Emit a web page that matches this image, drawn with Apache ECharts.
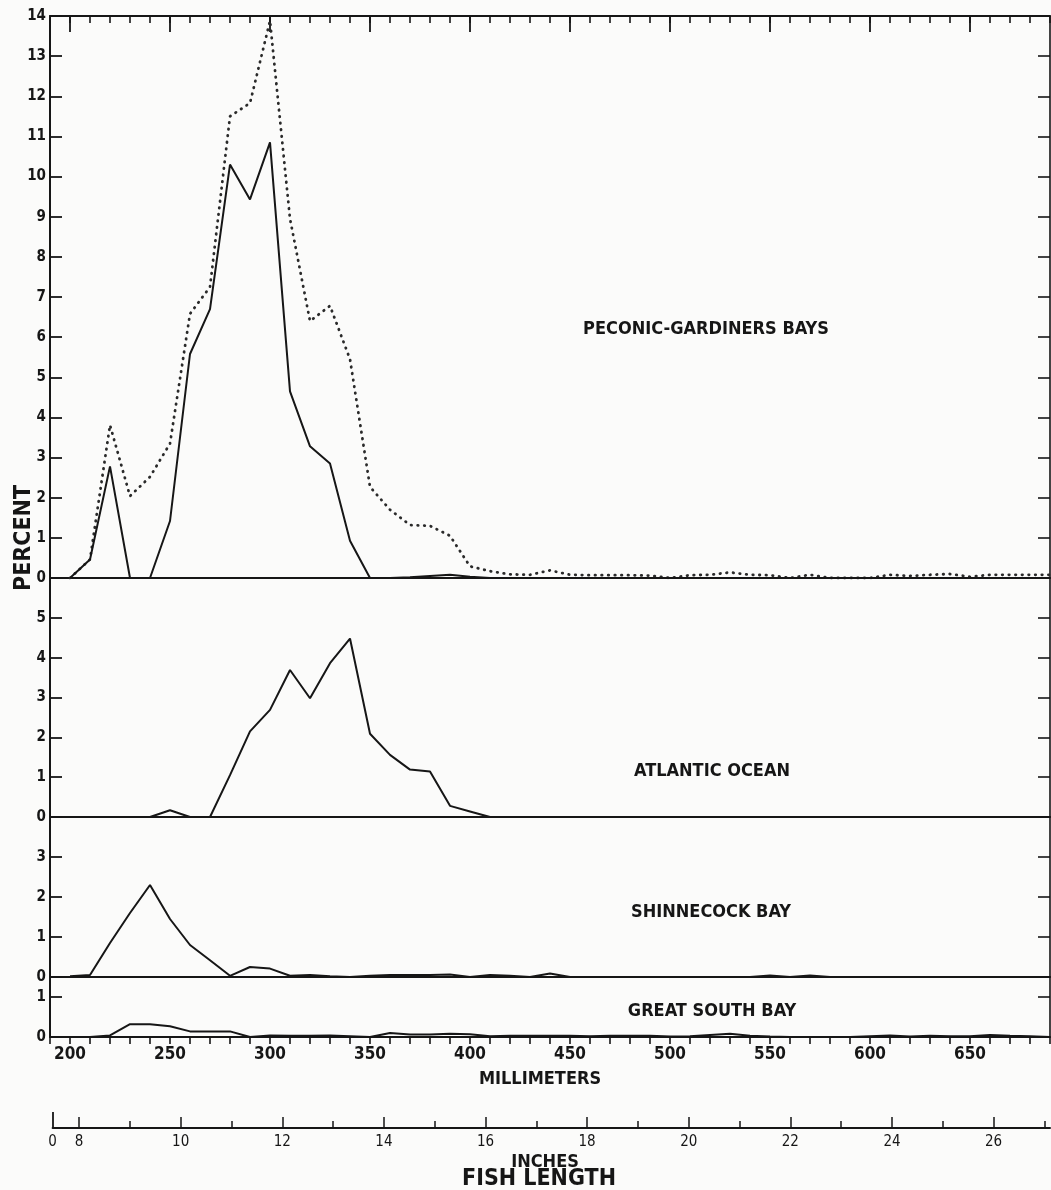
<!DOCTYPE html>
<html>
<head>
<meta charset="utf-8">
<script src="https://cdn.jsdelivr.net/npm/echarts@6/dist/echarts.min.js"></script>
<style>
html,body{margin:0;padding:0;background:#fbfbfa;}
#chart{width:1051px;height:1190px;}
</style>
</head>
<body>
<div id="chart"></div>
<script>
// ---------------- data (fish length in mm, percent) ----------------
const lengthMM = [200,210,220,230,240,250,260,270,280,290,
                  300,310,320,330,340,350,360,370,380,390,
                  400,410,420,430,440,450,460,470,480,490,
                  500,510,520,530,540,550,560,570,580,590,
                  600,610,620,630,640,650,660,670,680,690];

const peconic = [0,0.46,2.78,0,0,1.42,5.58,6.7,10.3,9.43,
                 10.85,4.65,3.28,2.85,0.93,0,0,0.02,0.05,0.08,
                 0.03,0,0,0,0,0,0,0,0,0,
                 0,0,0,0,0,0,0,0,0,0,
                 0,0,0,0,0,0,0,0,0,0];

const peconicTotal = [0,0.46,3.81,2.04,2.52,3.35,6.58,7.25,11.5,11.83,
                      13.88,8.95,6.4,6.78,5.45,2.27,1.7,1.32,1.3,1.05,
                      0.29,0.17,0.09,0.08,0.19,0.08,0.07,0.07,0.07,0.06,
                      0,0.07,0.08,0.14,0.08,0.07,0,0.08,0,0,
                      0,0.08,0.05,0.08,0.1,0.03,0.08,0.08,0.08,0.08];

const atlantic = [0,0,0,0,0,0.17,0,0,1.05,2.15,
                  2.69,3.69,2.98,3.86,4.48,2.09,1.56,1.19,1.14,0.28,
                  0.14,0,0,0,0,0,0,0,0,0,
                  0,0,0,0,0,0,0,0,0,0,
                  0,0,0,0,0,0,0,0,0,0];

const shinnecock = [0.02,0.05,0.85,1.6,2.3,1.45,0.8,0.42,0.03,0.25,
                    0.21,0.03,0.05,0.02,0,0.03,0.05,0.05,0.05,0.06,
                    0,0.05,0.03,0,0.09,0,0,0,0,0,
                    0,0,0,0,0,0.04,0,0.04,0,0,
                    0,0,0,0,0,0,0,0,0,0];

const greatSouth = [0,0,0.04,0.32,0.32,0.27,0.14,0.14,0.14,0,
                    0.04,0.03,0.03,0.04,0.02,0,0.1,0.06,0.06,0.08,
                    0.07,0.02,0.03,0.03,0.03,0.03,0.02,0.03,0.03,0.03,
                    0.01,0.02,0.05,0.08,0.03,0.01,0,0,0,0,
                    0.02,0.04,0.01,0.03,0.02,0.02,0.05,0.03,0.02,0];

// ---------------- tick labels ----------------
const mmMajorTicks = [200,250,300,350,400,450,500,550,600,650];
const inchMajorTicks = [8,10,12,14,16,18,20,22,24,26];
const inchMinorTicks = [9,11,13,15,17,19,21,23,25,27];
const inchStart = 7.48;   // left end of inch scale, labelled "0"
const inchEnd = 27.11;
const yTicksPeconic = [0,1,2,3,4,5,6,7,8,9,10,11,12,13,14];
const yTicksAtlantic = [0,1,2,3,4,5];
const yTicksShinnecock = [0,1,2,3];
const yTicksGreatSouth = [0,1];
const panelMax = [14, 6, 4, 1.5];
const panelNames = ['PECONIC-GARDINERS BAYS','ATLANTIC OCEAN','SHINNECOCK BAY','GREAT SOUTH BAY'];

// ---------------- layout / style ----------------
const INK = '#161616';
const FONT = 'DejaVu Sans Condensed';
const BOLD = 'bold';
const LEFT = 50, WIDTH = 1000;
const panelBox = [
  {top:16, height:562},
  {top:578, height:239},
  {top:817, height:160},
  {top:977, height:60}
];
const yTickSets = [yTicksPeconic, yTicksAtlantic, yTicksShinnecock, yTicksGreatSouth];

const pairs = (ys) => lengthMM.map((x, i) => [x, ys[i]]);

const grid = panelBox.map(b => ({left: LEFT, width: WIDTH, top: b.top, height: b.height}));
// 4: overlay of panel 0 (for the long top ticks)
grid.push({left: LEFT, width: WIDTH, top: panelBox[0].top, height: panelBox[0].height});
// 5,6,7: inch scale (stacked on the same line)
const inchGrid = {left: 52.6, width: 997.4, top: 1127, height: 1};
grid.push(Object.assign({}, inchGrid), Object.assign({}, inchGrid), Object.assign({}, inchGrid));

const off = () => ({show:false});
const noLine = () => ({show:false, onZero:false});
function mmAxis(gridIndex, o) {
  return Object.assign({type:'value', gridIndex, min:190, max:690,
    splitLine:off(), axisLabel:off(), axisTick:off(), axisLine:noLine()}, o);
}
function inchAxis(gridIndex, o) {
  return Object.assign({type:'value', gridIndex, min:inchStart, max:inchEnd, position:'bottom',
    splitLine:off(), axisLabel:off(), axisTick:off(), axisLine:noLine()}, o);
}
const lineW2 = () => ({show:true, onZero:false, lineStyle:{color:INK, width:2}});

const xAxis = [
  // 0: baseline of panel 0
  mmAxis(0, {position:'bottom', axisLine:lineW2()}),
  // 1: top border with minor ticks
  mmAxis(0, {position:'top', interval:10, axisLine:lineW2(),
     axisTick:{show:true, inside:true, length:7, lineStyle:{color:INK, width:1.6}}}),
  // 2: top major ticks (overlay grid)
  mmAxis(4, {position:'top',
     axisTick:{show:true, inside:true, length:16, customValues:mmMajorTicks, lineStyle:{color:INK, width:1.8}}}),
  // 3,4: baselines
  mmAxis(1, {position:'bottom', axisLine:lineW2()}),
  mmAxis(2, {position:'bottom', axisLine:lineW2()}),
  // 5: millimetre axis
  mmAxis(3, {position:'bottom', interval:10, axisLine:lineW2(),
     axisTick:{show:true, inside:false, length:7, lineStyle:{color:INK, width:1.6}},
     axisLabel:{show:true, customValues:mmMajorTicks, margin:9, color:INK,
       fontFamily:FONT, fontWeight:BOLD, fontSize:17}}),
  // 6: inch axis, even ticks + labels
  inchAxis(5, {
    axisLine:lineW2(),
    axisTick:{show:true, inside:true, length:11, customValues:inchMajorTicks, lineStyle:{color:INK, width:1.5}},
    axisLabel:{show:true, customValues:[inchStart].concat(inchMajorTicks), margin:7, color:INK,
      fontFamily:FONT, fontSize:15, formatter: v => (Math.abs(v - inchStart) < 1e-6 ? '0' : String(v))}}),
  // 7: inch axis odd ticks
  inchAxis(6, {axisTick:{show:true, inside:true, length:7, customValues:inchMinorTicks, lineStyle:{color:INK, width:1.5}}}),
  // 8: inch axis start tick
  inchAxis(7, {axisTick:{show:true, inside:true, length:16, customValues:[inchStart], lineStyle:{color:INK, width:1.8}}})
];

const yAxis = [];
panelBox.forEach((b, i) => {
  yAxis.push({type:'value', gridIndex:i, min:0, max:panelMax[i], position:'left', splitLine:off(),
    axisLine:{show:true, onZero:false, lineStyle:{color:INK, width:2}},
    axisTick:{show:true, inside:true, length:12, customValues:yTickSets[i], lineStyle:{color:INK, width:1.8}},
    axisLabel:{show:true, customValues:yTickSets[i], margin:4, color:INK, fontFamily:FONT,
      fontWeight:BOLD, fontSize:15}});
  yAxis.push({type:'value', gridIndex:i, min:0, max:panelMax[i], position:'right', splitLine:off(),
    axisLine:{show:true, onZero:false, lineStyle:{color:INK, width:1.6}},
    axisTick:{show:true, inside:true, length:12, customValues:yTickSets[i], lineStyle:{color:INK, width:1.6}},
    axisLabel:off()});
});
[4,5,6,7].forEach(g => yAxis.push({type:'value', gridIndex:g, min:0, max:1, show:false}));

const solid = {color:INK, width:2};
const series = [
  {type:'line', name:'Peconic-Gardiners total', xAxisIndex:0, yAxisIndex:0, data:pairs(peconicTotal),
    showSymbol:false, symbol:'none', silent:true,
    lineStyle:{color:'#2a2a2a', width:2.8, type:[0.5, 6.1], cap:'round'}},
  {type:'line', name:'Peconic-Gardiners Bays', xAxisIndex:0, yAxisIndex:0, data:pairs(peconic),
    showSymbol:false, symbol:'none', silent:true, lineStyle:solid},
  {type:'line', name:'Atlantic Ocean', xAxisIndex:3, yAxisIndex:2, data:pairs(atlantic),
    showSymbol:false, symbol:'none', silent:true, lineStyle:solid},
  {type:'line', name:'Shinnecock Bay', xAxisIndex:4, yAxisIndex:4, data:pairs(shinnecock),
    showSymbol:false, symbol:'none', silent:true, lineStyle:solid},
  {type:'line', name:'Great South Bay', xAxisIndex:5, yAxisIndex:6, data:pairs(greatSouth),
    showSymbol:false, symbol:'none', silent:true, lineStyle:solid}
];

const f = (size) => 'bold ' + size + 'px "' + FONT + '"';
const labelPos = [[706,329],[712,771],[711,912],[712,1011]];
const graphic = panelNames.map((t, i) => ({type:'text', x:labelPos[i][0], y:labelPos[i][1],
  style:{text:t, fill:INK, font:f(18), align:'center', verticalAlign:'middle'}}));
graphic.push(
  {type:'text', x:24, y:538, rotation:Math.PI/2,
    style:{text:'PERCENT', fill:INK, font:f(23), align:'center', verticalAlign:'middle'}},
  {type:'text', x:540, y:1079,
    style:{text:'MILLIMETERS', fill:INK, font:f(18), align:'center', verticalAlign:'middle'}},
  {type:'text', x:545, y:1162,
    style:{text:'INCHES', fill:INK, font:f(18), align:'center', verticalAlign:'middle'}},
  {type:'text', x:539, y:1179,
    style:{text:'FISH LENGTH', fill:INK, font:f(23), align:'center', verticalAlign:'middle'}}
);

const chart = echarts.init(document.getElementById('chart'), null, {renderer:'canvas'});
chart.setOption({
  backgroundColor:'#fbfbfa',
  animation:false,
  grid, xAxis, yAxis, series, graphic
});
</script>
</body>
</html>
